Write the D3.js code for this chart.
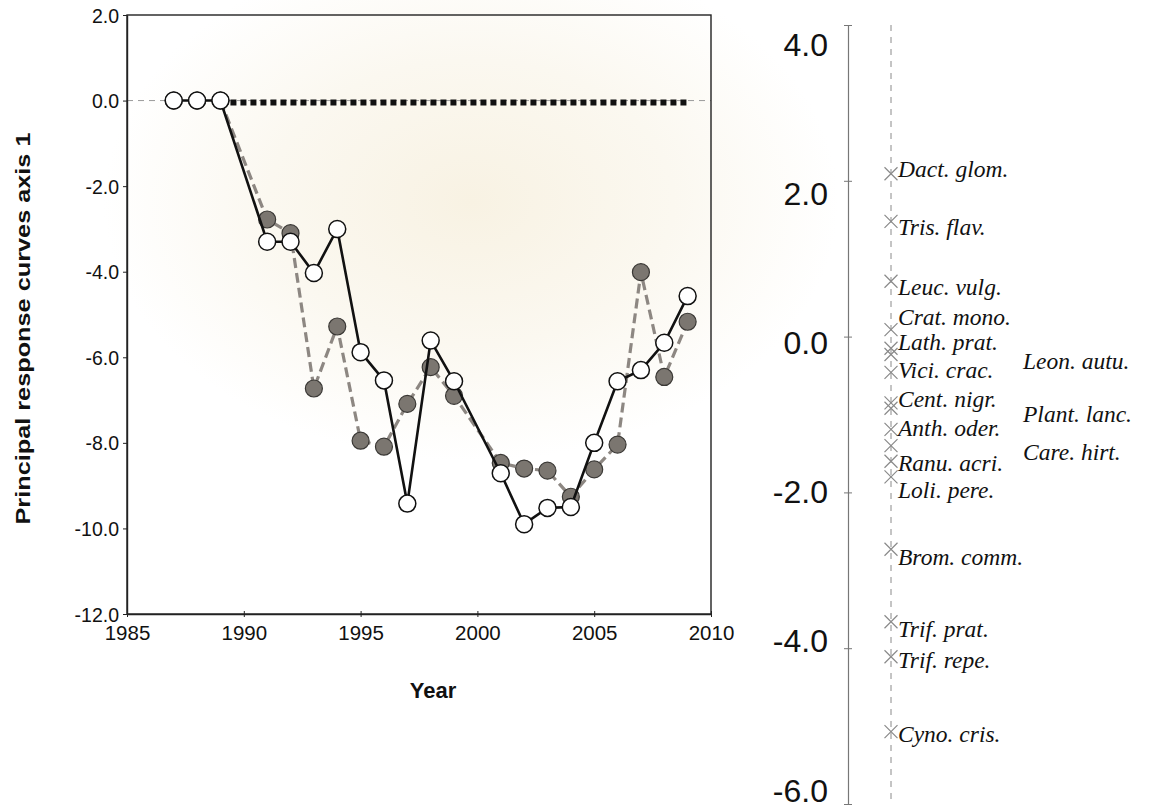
<!DOCTYPE html>
<html>
<head>
<meta charset="utf-8">
<script src="https://cdn.jsdelivr.net/npm/d3@7"></script>
<style>
  html, body { margin: 0; padding: 0; background: #ffffff; }
  svg { display: block; }
</style>
</head>
<body>
<svg id="chart" width="1149" height="809"></svg>
<script>
// ---------------- data ----------------
const years = [1987, 1988, 1989, 1991, 1992, 1993, 1994, 1995, 1996, 1997, 1998, 1999,
               2001, 2002, 2003, 2004, 2005, 2006, 2007, 2008, 2009];
const seriesOpen = [0, 0, 0, -3.3, -3.3, -4.03, -3.0, -5.88, -6.54, -9.42, -5.61, -6.56,
                    -8.71, -9.9, -9.52, -9.5, -8.0, -6.56, -6.3, -5.66, -4.57];
const seriesFilled = [0, 0, 0, -2.78, -3.1, -6.73, -5.28, -7.95, -8.09, -7.09, -6.23, -6.9,
                      -8.47, -8.6, -8.65, -9.26, -8.62, -8.04, -4.01, -6.46, -5.17];
const controlYears = [1989, 2009];
const controlValues = [0, 0];

const xTicks = [1985, 1990, 1995, 2000, 2005, 2010];
const yTicks = [2, 0, -2, -4, -6, -8, -10, -12];
const rightTicks = [4, 2, 0, -2, -4, -6];

const species = ["Dact. glom.", "Tris. flav.", "Leuc. vulg.", "Crat. mono.", "Lath. prat.",
                 "Leon. autu.", "Vici. crac.", "Cent. nigr.", "Plant. lanc.", "Anth. oder.",
                 "Care. hirt.", "Ranu. acri.", "Loli. pere.", "Brom. comm.", "Trif. prat.",
                 "Trif. repe.", "Cyno. cris."];
const speciesScores = [2.09, 1.48, 0.71, 0.09, -0.15, -0.23, -0.46, -0.85, -0.92, -1.19,
                       -1.40, -1.60, -1.80, -2.73, -3.66, -4.11, -5.07];
const labelScores = [2.05, 1.31, 0.54, 0.15, -0.17, -0.42, -0.53, -0.91, -1.09, -1.28,
                     -1.58, -1.73, -2.07, -2.93, -3.85, -4.25, -5.20];
const labelColumn = [0, 0, 0, 0, 0, 1, 0, 0, 1, 0, 1, 0, 0, 0, 0, 0, 0];

// ---------------- drawing ----------------
const fmt = d => d3.format(".1f")(d).replace("\u2212", "-");
const sans = "Liberation Sans, Arial, sans-serif";

const svg = d3.select("#chart");
const defs = svg.append("defs");
const grad = defs.append("radialGradient").attr("id", "glow")
  .attr("cx", "0.41").attr("cy", "0.25").attr("r", "0.32");
grad.append("stop").attr("offset", "0").attr("stop-color", "#f8f2e3");
grad.append("stop").attr("offset", "0.55").attr("stop-color", "#fbf8f0");
grad.append("stop").attr("offset", "1").attr("stop-color", "#ffffff");
svg.append("rect").attr("width", 1149).attr("height", 809).attr("fill", "url(#glow)");

const x = d3.scaleLinear().domain([1985, 2010]).range([127, 711]);
const y = d3.scaleLinear().domain([-12, 2]).range([614, 15]);

// zero reference (thin dashed)
svg.append("line")
  .attr("x1", x(1985)).attr("x2", x(2010))
  .attr("y1", y(0)).attr("y2", y(0))
  .attr("stroke", "#9a9a9a").attr("stroke-width", 1)
  .attr("stroke-dasharray", "6,5");

// frame
svg.append("rect")
  .attr("x", x(1985)).attr("y", y(2))
  .attr("width", x(2010) - x(1985)).attr("height", y(-12) - y(2))
  .attr("fill", "none").attr("stroke", "#222").attr("stroke-width", 1.4);

// axes
const yAxis = d3.axisLeft(y).tickValues(yTicks).tickSize(4).tickSizeOuter(0).tickFormat(fmt);
const gy = svg.append("g").attr("transform", `translate(${x(1985)},0)`).call(yAxis);
gy.select(".domain").attr("stroke", "#222").attr("stroke-width", 1.4);
gy.selectAll(".tick line").attr("stroke", "#222");
gy.selectAll(".tick text").attr("font-family", sans)
  .attr("font-size", 19.5).attr("fill", "#111").attr("x", -8).attr("dy", "0.36em");

const xAxis = d3.axisBottom(x).tickValues(xTicks).tickSize(4).tickSizeOuter(0)
  .tickFormat(d3.format("d"));
const gx = svg.append("g").attr("transform", `translate(0,${y(-12)})`).call(xAxis);
gx.select(".domain").attr("stroke", "#222").attr("stroke-width", 1.4);
gx.selectAll(".tick line").attr("stroke", "#222").attr("y1", -3).attr("y2", 3);
gx.selectAll(".tick text").attr("font-family", sans)
  .attr("font-size", 20.5).attr("fill", "#111").attr("y", 11);

// axis titles
svg.append("text")
  .attr("transform", `translate(30,${(y(2) + y(-12)) / 2 + 14}) rotate(-90)`)
  .attr("text-anchor", "middle")
  .attr("font-family", sans)
  .attr("font-weight", "bold").attr("font-size", 21).attr("fill", "#111")
  .attr("textLength", 392).attr("lengthAdjust", "spacingAndGlyphs")
  .text("Principal response curves axis 1");
svg.append("text")
  .attr("x", 433).attr("y", 698)
  .attr("text-anchor", "middle")
  .attr("font-family", sans)
  .attr("font-weight", "bold").attr("font-size", 22).attr("fill", "#111")
  .text("Year");

// control thick dotted line
const ctrl = controlYears.map((d, i) => [d, controlValues[i]]);
svg.append("path")
  .attr("d", d3.line().x(d => x(d[0])).y(d => y(d[1]) + 2)(ctrl))
  .attr("fill", "none").attr("stroke", "#111").attr("stroke-width", 6)
  .attr("stroke-dasharray", "6,4");

const line = d3.line().x(d => x(d[0])).y(d => y(d[1]));
const filledData = years.map((d, i) => [d, seriesFilled[i]]);
const openData = years.map((d, i) => [d, seriesOpen[i]]);

// filled (grey dashed) series
svg.append("path")
  .attr("d", line(filledData.slice(2)))
  .attr("fill", "none").attr("stroke", "#8d8782").attr("stroke-width", 3.2)
  .attr("stroke-dasharray", "10,5");
svg.append("g").selectAll("circle").data(filledData).join("circle")
  .attr("cx", d => x(d[0])).attr("cy", d => y(d[1])).attr("r", 8.5)
  .attr("fill", "#7b7670").attr("stroke", "#3a3835").attr("stroke-width", 1.2);

// open (black solid) series
svg.append("path")
  .attr("d", line(openData))
  .attr("fill", "none").attr("stroke", "#111").attr("stroke-width", 2.6);
svg.append("g").selectAll("circle").data(openData).join("circle")
  .attr("cx", d => x(d[0])).attr("cy", d => y(d[1])).attr("r", 8.5)
  .attr("fill", "#ffffff").attr("stroke", "#111").attr("stroke-width", 1.5);

// ---------------- right panel ----------------
const yr = d3.scaleLinear().domain([-6, 4]).range([804, 25]);
const yrLabel = d3.scaleLinear().domain([-6, 4]).range([790, 44]);
const axisX = 848;
const rAxis = d3.axisLeft(yr).tickValues(rightTicks).tickSize(5).tickSizeOuter(0).tickFormat("");
const gr = svg.append("g").attr("transform", `translate(${axisX},0)`).call(rAxis);
gr.select(".domain").attr("stroke", "#777").attr("stroke-width", 1.2);
gr.selectAll(".tick line").attr("stroke", "#777").attr("x2", -4).attr("x1", 4);

svg.append("g").selectAll("text").data(rightTicks).join("text")
  .attr("x", 828).attr("y", d => yrLabel(d)).attr("dy", "0.36em")
  .attr("text-anchor", "end")
  .attr("font-family", sans)
  .attr("font-size", 32).attr("fill", "#111")
  .text(fmt);

const spX = 891;
svg.append("line")
  .attr("x1", spX).attr("x2", spX).attr("y1", yr(4)).attr("y2", yr(-6))
  .attr("stroke", "#8a8a8a").attr("stroke-width", 1).attr("stroke-dasharray", "6,6");

const marks = svg.append("g");
speciesScores.forEach(v => {
  const cy = yr(v), s = 6.5;
  marks.append("path")
    .attr("d", `M${spX - s},${cy - s}L${spX + s},${cy + s}M${spX - s},${cy + s}L${spX + s},${cy - s}`)
    .attr("stroke", "#8a8a8a").attr("stroke-width", 1.2).attr("fill", "none");
});

svg.append("g").selectAll("text").data(species).join("text")
  .attr("x", (d, i) => labelColumn[i] ? 1023 : 898)
  .attr("y", (d, i) => yr(labelScores[i]))
  .attr("font-family", "Liberation Serif, Times New Roman, serif")
  .attr("font-style", "italic").attr("font-size", 23.5).attr("fill", "#111")
  .text(d => d);
</script>
</body>
</html>
